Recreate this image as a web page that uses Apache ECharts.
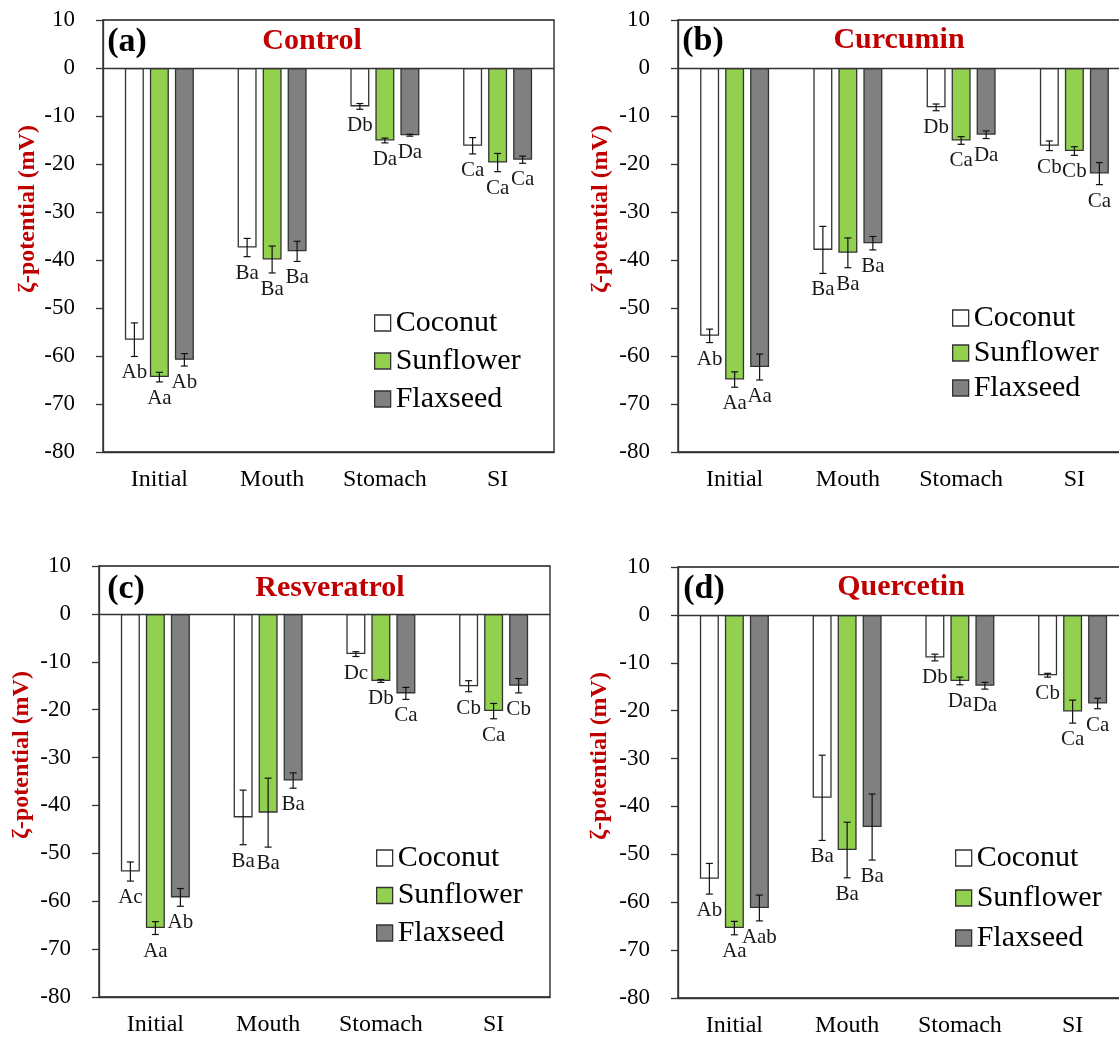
<!DOCTYPE html>
<html><head><meta charset="utf-8">
<script src="https://cdn.jsdelivr.net/npm/echarts@6/dist/echarts.min.js"></script>
<style>html,body{margin:0;padding:0;background:#fff}#c{width:1119px;height:1039px}</style>
</head><body><div id="c"></div>
<script>
// ---- data ----
const categories = ['Initial', 'Mouth', 'Stomach', 'SI'];
const oils = ['Coconut', 'Sunflower', 'Flaxseed'];

// rows: Coconut, Sunflower, Flaxseed ; columns: Initial, Mouth, Stomach, SI
const controlMean = [[-56.6, -37.4, -8.0, -16.2], [-64.4, -39.9, -15.1, -19.7], [-60.8, -38.2, -14.0, -19.1]];
const controlSD = [[3.5, 1.9, 0.6, 1.7], [1.0, 2.8, 0.5, 1.9], [1.3, 2.1, 0.2, 0.75]];
const controlLetters = [['Ab', 'Ba', 'Db', 'Ca'], ['Aa', 'Ba', 'Da', 'Ca'], ['Ab', 'Ba', 'Da', 'Ca']];

const curcuminMean = [[-55.8, -37.9, -8.2, -16.2], [-64.9, -38.5, -15.1, -17.3], [-62.3, -36.5, -13.9, -22.0]];
const curcuminSD = [[1.4, 4.9, 0.7, 1.0], [1.6, 3.1, 0.8, 0.9], [2.7, 1.4, 0.8, 2.3]];
const curcuminLetters = [['Ab', 'Ba', 'Db', 'Cb'], ['Aa', 'Ba', 'Ca', 'Cb'], ['Aa', 'Ba', 'Da', 'Ca']];

const resveratrolMean = [[-53.8, -42.5, -8.4, -15.1], [-65.6, -41.5, -14.0, -20.3], [-59.2, -34.8, -16.6, -15.0]];
const resveratrolSD = [[2.0, 5.7, 0.5, 1.15], [1.35, 7.2, 0.3, 1.6], [1.85, 1.6, 1.25, 1.5]];
const resveratrolLetters = [['Ac', 'Ba', 'Dc', 'Cb'], ['Aa', 'Ba', 'Db', 'Ca'], ['Ab', 'Ba', 'Ca', 'Cb']];

const quercetinMean = [[-55.1, -38.2, -8.9, -12.6], [-65.4, -49.1, -13.8, -20.2], [-61.2, -44.3, -14.8, -18.5]];
const quercetinSD = [[3.2, 8.9, 0.7, 0.4], [1.4, 5.8, 0.8, 2.4], [2.7, 6.9, 0.7, 1.1]];
const quercetinLetters = [['Ab', 'Ba', 'Db', 'Cb'], ['Aa', 'Ba', 'Da', 'Ca'], ['Aab', 'Ba', 'Da', 'Ca']];

const yMin = -80, yMax = 10, yStep = 10;
const yAxisName = 'ζ-potential (mV)';

// ---- layout / style ----
const FONT = '"Liberation Serif", "Times New Roman", serif';
const oilColors = ['#ffffff', '#92d050', '#808080'];
const edge = '#333333';

const panels = [
  { tag: '(a)', title: 'Control', mean: controlMean, sd: controlSD, letters: controlLetters,
    grid: { left: 103, top: 20, width: 451, height: 432 },
    tagPos: [127, 42], titlePos: [312, 41], namePos: [28, 209],
    legend: { left: 374, top: 308, itemGap: 8 } },
  { tag: '(b)', title: 'Curcumin', mean: curcuminMean, sd: curcuminSD, letters: curcuminLetters,
    grid: { left: 678, top: 20, width: 453, height: 432 },
    tagPos: [703, 41], titlePos: [899, 40], namePos: [601, 209],
    legend: { left: 952, top: 303, itemGap: 5 } },
  { tag: '(c)', title: 'Resveratrol', mean: resveratrolMean, sd: resveratrolSD, letters: resveratrolLetters,
    grid: { left: 99, top: 566, width: 451, height: 431 },
    tagPos: [126, 589], titlePos: [330, 588], namePos: [22, 755],
    legend: { left: 376, top: 843, itemGap: 7.5 } },
  { tag: '(d)', title: 'Quercetin', mean: quercetinMean, sd: quercetinSD, letters: quercetinLetters,
    grid: { left: 678, top: 567, width: 451, height: 431 },
    tagPos: [704, 589], titlePos: [901, 587], namePos: [600, 756],
    legend: { left: 955, top: 843, itemGap: 10 } }
];

const BAR_W = 19, PITCH = 25;

const option = {
  animation: false,
  backgroundColor: '#fff',
  grid: [], xAxis: [], yAxis: [], series: [], legend: [], graphic: []
};

panels.forEach((p, i) => {
  option.grid.push(Object.assign({ show: true, borderColor: '#1a1a1a', borderWidth: 1.3, backgroundColor: 'transparent',
    containLabel: false, outerBoundsMode: 'none' }, p.grid));
  option.xAxis.push({
    type: 'category', gridIndex: i, data: categories,
    axisLine: { show: true, onZero: false, lineStyle: { color: edge, width: 1.3 } },
    axisTick: { show: false },
    axisLabel: { fontFamily: FONT, fontSize: 24, color: '#000', margin: 16 },
    splitLine: { show: false }
  });
  option.yAxis.push({
    type: 'value', gridIndex: i, min: yMin, max: yMax, interval: yStep,
    axisLine: { show: true, lineStyle: { color: edge, width: 1.3 } },
    axisTick: { show: true, inside: false, length: 7, lineStyle: { color: edge, width: 1.3 } },
    axisLabel: { fontFamily: FONT, fontSize: 23, color: '#000', margin: 28 },
    splitLine: { show: false }
  });
  oils.forEach((oil, j) => {
    const s = {
      type: 'bar', name: oil, xAxisIndex: i, yAxisIndex: i,
      data: p.mean[j], barWidth: BAR_W, barGap: ((PITCH - BAR_W) / BAR_W * 100).toFixed(2) + '%',
      itemStyle: { color: oilColors[j], borderColor: edge, borderWidth: 1.3 },
      z: 2
    };
    if (j === 0) {
      s.markLine = {
        silent: true, symbol: ['none', 'none'], label: { show: false },
        lineStyle: { color: edge, width: 1.3, type: 'solid' },
        data: [{ yAxis: 0 }], z: 4
      };
    }
    option.series.push(s);
  });
  oils.forEach((oil, j) => {
    option.series.push({
      type: 'custom', name: 'err-' + oil, xAxisIndex: i, yAxisIndex: i, z: 6, clip: false,
      data: categories.map((c, k) => [k, p.mean[j][k], p.sd[j][k]]),
      renderItem: (params, api) => {
        const k = api.value(0), m = api.value(1), sd = api.value(2);
        const off = (j - 1) * PITCH;
        const hi = api.coord([k, m + sd]);
        const lo = api.coord([k, m - sd]);
        const x = hi[0] + off;
        const cap = 3.5;
        const ls = { stroke: '#111', lineWidth: 1.2 };
        return {
          type: 'group', children: [
            { type: 'line', shape: { x1: x, y1: hi[1], x2: x, y2: lo[1] }, style: ls },
            { type: 'line', shape: { x1: x - cap, y1: hi[1], x2: x + cap, y2: hi[1] }, style: ls },
            { type: 'line', shape: { x1: x - cap, y1: lo[1], x2: x + cap, y2: lo[1] }, style: ls },
            { type: 'text', x: x, y: lo[1] + 6,
              style: { text: p.letters[j][params.dataIndex], font: '21px ' + FONT, fill: '#1a1a1a',
                       textAlign: 'center', textVerticalAlign: 'top' } }
          ]
        };
      }
    });
  });
  option.legend.push({
    orient: 'vertical', left: p.legend.left, top: p.legend.top, itemGap: p.legend.itemGap,
    itemWidth: 16, itemHeight: 16, icon: 'rect', selectedMode: false, padding: 0,
    data: oils,
    itemStyle: { borderColor: edge, borderWidth: 1.3 },
    textStyle: { fontFamily: FONT, fontSize: 30, color: '#000', lineHeight: 30 }
  });
  option.graphic.push(
    { type: 'text', x: p.tagPos[0], y: p.tagPos[1], z: 10,
      style: { text: p.tag, font: 'bold 34px ' + FONT, fill: '#000', textAlign: 'center', textVerticalAlign: 'middle' } },
    { type: 'text', x: p.titlePos[0], y: p.titlePos[1], z: 10,
      style: { text: p.title, font: 'bold 30px ' + FONT, fill: '#c00000', textAlign: 'center', textVerticalAlign: 'middle' } },
    { type: 'text', x: p.namePos[0], y: p.namePos[1], rotation: Math.PI / 2, z: 10,
      style: { text: yAxisName, font: 'bold 24px ' + FONT, fill: '#c00000', textAlign: 'center', textVerticalAlign: 'middle' } }
  );
});

const chart = echarts.init(document.getElementById('c'));
chart.setOption(option);
</script>
</body></html>
